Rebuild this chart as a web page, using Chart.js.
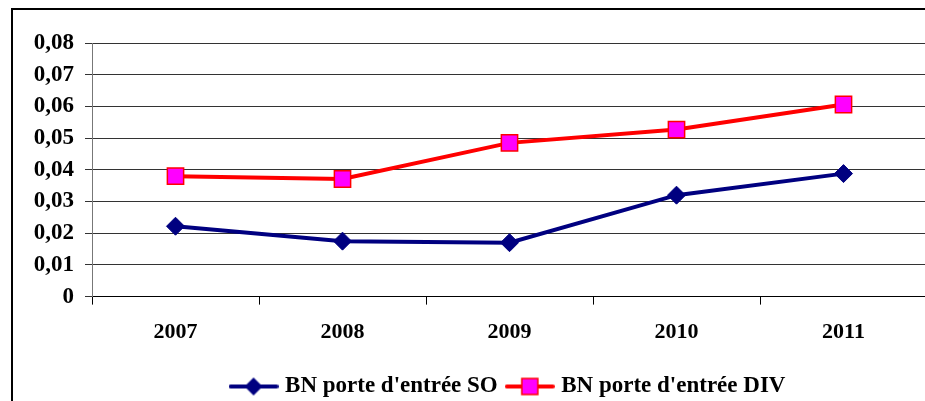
<!DOCTYPE html>
<html>
<head>
<meta charset="utf-8">
<script src="https://cdn.jsdelivr.net/npm/chart.js@4/dist/chart.umd.min.js"></script>
<style>
  html, body { margin: 0; padding: 0; background: #fff; overflow: hidden; width: 925px; height: 401px; }
  #frame { position: absolute; left: 11px; top: 8px; width: 960px; height: 440px; border: 2px solid #000; box-sizing: border-box; }
  #myChart { position: absolute; left: 0; top: 0; }
</style>
</head>
<body>
<div id="frame"></div>
<canvas id="myChart" width="940" height="410"></canvas>
<script>
// DATA
var annees = ['2007', '2008', '2009', '2010', '2011'];
var valeursSO = [0.0222, 0.0175, 0.0170, 0.0320, 0.0388];
var valeursDIV = [0.0380, 0.0371, 0.0485, 0.0527, 0.0606];
var nomsSeries = ["BN porte d'entrée SO", "BN porte d'entrée DIV"];

var police = "'Liberation Serif', 'Times New Roman', serif";

// small pictures for the legend: line + marker
function legendeSO() {
    var c = document.createElement('canvas');
    c.width = 50; c.height = 22;
    var ctx = c.getContext('2d');
    ctx.strokeStyle = '#000080';
    ctx.lineWidth = 4;
    ctx.lineCap = 'round';
    ctx.beginPath(); ctx.moveTo(2, 11); ctx.lineTo(48, 11); ctx.stroke();
    ctx.fillStyle = '#000080';
    ctx.beginPath();
    ctx.moveTo(25, 2); ctx.lineTo(34, 11); ctx.lineTo(25, 20); ctx.lineTo(16, 11);
    ctx.closePath(); ctx.fill();
    return c;
}
function legendeDIV() {
    var c = document.createElement('canvas');
    c.width = 50; c.height = 22;
    var ctx = c.getContext('2d');
    ctx.strokeStyle = '#ff0000';
    ctx.lineWidth = 4;
    ctx.lineCap = 'round';
    ctx.beginPath(); ctx.moveTo(2, 11); ctx.lineTo(48, 11); ctx.stroke();
    ctx.fillStyle = '#ff00ff';
    ctx.fillRect(17, 3, 16, 16);
    ctx.lineWidth = 1.5;
    ctx.strokeRect(17, 3, 16, 16);
    return c;
}
var imagesLegende = [legendeSO(), legendeDIV()];

const mainChart = new Chart("myChart", {
    type: 'line',
    data: {
        labels: annees,
        datasets: [{
            label: nomsSeries[0],
            data: valeursSO,
            borderColor: '#000080',
            backgroundColor: '#000080',
            borderWidth: 4,
            pointStyle: 'rectRot',
            pointRadius: 9,
            pointBorderWidth: 1,
            pointHoverRadius: 9,
            tension: 0
        }, {
            label: nomsSeries[1],
            data: valeursDIV,
            borderColor: '#ff0000',
            backgroundColor: '#ff00ff',
            borderWidth: 4,
            pointStyle: 'rect',
            pointRadius: 11.5,
            pointBorderWidth: 1.5,
            pointHoverRadius: 11.5,
            tension: 0
        }]
    },
    options: {
        responsive: false,
        animation: false,
        devicePixelRatio: 1,
        layout: {
            padding: { left: 0, right: 13, top: 43, bottom: 2 }
        },
        plugins: {
            tooltip: { enabled: false },
            legend: {
                position: 'bottom',
                fullSize: false,
                labels: {
                    usePointStyle: true,
                    pointStyleWidth: 40,
                    padding: 12,
                    color: '#000',
                    font: { family: police, size: 23, weight: 'bold' },
                    generateLabels: function(chart) {
                        return chart.data.datasets.map(function(ds, i) {
                            return {
                                text: ds.label,
                                pointStyle: imagesLegende[i],
                                fillStyle: ds.backgroundColor,
                                strokeStyle: ds.borderColor,
                                lineWidth: 0,
                                datasetIndex: i,
                                fontColor: '#000'
                            };
                        });
                    }
                }
            }
        },
        scales: {
            x: {
                offset: true,
                afterFit: function(scale) { scale.height += 2; },
                grid: {
                    offset: true,
                    drawOnChartArea: false,
                    drawTicks: true,
                    tickLength: 8,
                    color: '#000'
                },
                border: { color: '#000', width: 1 },
                ticks: {
                    color: '#000',
                    padding: 9,
                    font: { family: police, size: 22, weight: 'bold', lineHeight: 1.745 }
                }
            },
            y: {
                min: 0,
                max: 0.08,
                afterFit: function(scale) { scale.width = 92; },
                grid: {
                    color: '#333',
                    tickLength: 7,
                    drawTicks: true
                },
                border: { color: '#777', width: 1 },
                ticks: {
                    stepSize: 0.01,
                    color: '#000',
                    padding: 11,
                    font: { family: police, size: 23, weight: 'bold' },
                    callback: function(v) {
                        if (v === 0) return '0';
                        return v.toFixed(2).replace('.', ',');
                    }
                }
            }
        }
    }
});
</script>
</body>
</html>
